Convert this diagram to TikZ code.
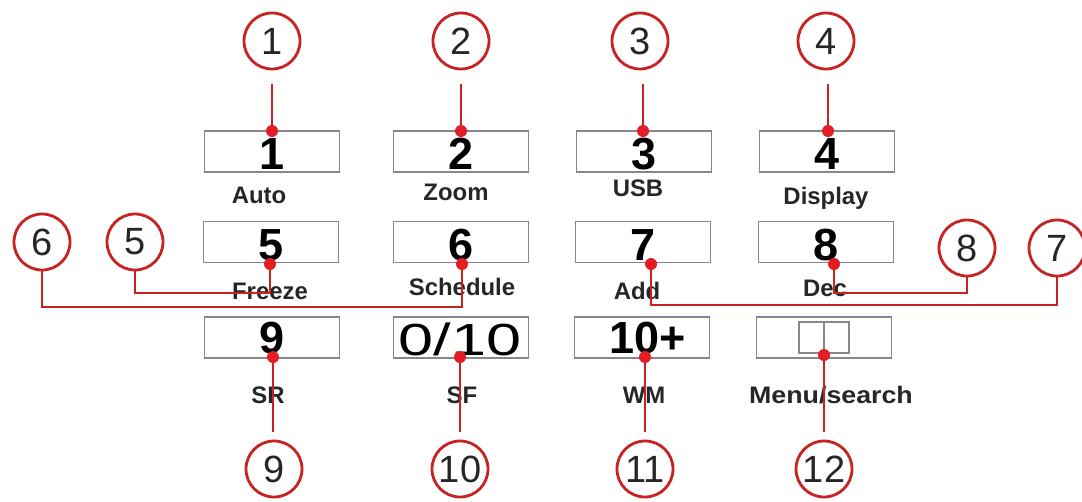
\documentclass[tikz,border=0pt]{standalone}
\usepackage{fontspec}
\setmainfont{Liberation Sans}
\usepackage{tikz}
\usetikzlibrary{calc}
\definecolor{calloutred}{RGB}{200,35,35}
\definecolor{dotred}{RGB}{226,30,36}
\definecolor{boxgray}{RGB}{135,135,135}
\tikzstyle{tsKeyBox} = [
    rectangle,
    draw=boxgray,
    line width=1.3pt,
    minimum width=3.375cm,
    minimum height=1.025cm,
    inner sep=0pt]
\tikzstyle{tsKeyNum} = [
    text=black,
    inner sep=0pt,
    font=\bfseries\fontsize{32}{32}\selectfont]
\tikzstyle{tsKeyLabel} = [
    text=black!85,
    inner sep=0pt,
    font=\bfseries\fontsize{17}{17}\selectfont]
\tikzstyle{tsCallout} = [
    circle,
    draw=calloutred,
    line width=2pt,
    minimum size=1.4cm,
    inner sep=0pt,
    text=black!85,
    font=\fontsize{27}{27}\selectfont]
\tikzstyle{tsDot} = [
    circle,
    fill=dotred,
    minimum size=0.3cm,
    inner sep=0pt]
\tikzstyle{tsLeader} = [
    draw=calloutred,
    line width=2pt]

\begin{document}
\begin{tikzpicture}[x=0.025cm, y=-0.025cm]
        \useasboundingbox (0,0) rectangle (1082,501);

        % key boxes
        \node[tsKeyBox] (k1) at (272,151.5) {};
        \node[tsKeyBox] (k2) at (461,151.5) {};
        \node[tsKeyBox] (k3) at (644,151.5) {};
        \node[tsKeyBox] (k4) at (827,151.5) {};
        \node[tsKeyBox] (k5) at (271,242) {};
        \node[tsKeyBox] (k6) at (461,242) {};
        \node[tsKeyBox] (k7) at (643,242) {};
        \node[tsKeyBox] (k8) at (826,242) {};
        \node[tsKeyBox] (k9) at (272,337.5) {};
        \node[tsKeyBox] (k10) at (461,337.5) {};
        \node[tsKeyBox] (k11) at (642,337.5) {};
        \node[tsKeyBox] (k12) at (824,337.5) {};
        \node[tsKeyBox, line width=1pt, minimum width=1.25cm, minimum height=0.775cm] (k12in) at (824,337.5) {};
        \draw[boxgray, line width=1pt] (k12in.north) -- (k12in.south);

        % key numbers
        \node[tsKeyNum] (n1) at (272,154) {1};
        \node[tsKeyNum] (n2) at (461,154) {2};
        \node[tsKeyNum] (n3) at (644,154) {3};
        \node[tsKeyNum] (n4) at (827,154) {4};
        \node[tsKeyNum] (n5) at (271,245) {5};
        \node[tsKeyNum] (n6) at (461,245) {6};
        \node[tsKeyNum] (n7) at (643,245) {7};
        \node[tsKeyNum] (n8) at (826,245) {8};
        \node[tsKeyNum] (n9) at (272,338) {9};
        \node[tsKeyNum, font=\fontsize{32}{32}\selectfont] (n10) at (460,339) {\scalebox{1.4}[1]{0/10}};
        \node[tsKeyNum] (n11) at (648,338) {10+};

        % key labels
        \node[tsKeyLabel] (l1) at (259,195) {Auto};
        \node[tsKeyLabel] (l2) at (456,192) {Zoom};
        \node[tsKeyLabel] (l3) at (638,188) {USB};
        \node[tsKeyLabel] (l4) at (826,198) {Display};
        \node[tsKeyLabel] (l5) at (270,291) {Freeze};
        \node[tsKeyLabel] (l6) at (462,287) {Schedule};
        \node[tsKeyLabel] (l7) at (637,291) {Add};
        \node[tsKeyLabel] (l8) at (825,288) {Dec};
        \node[tsKeyLabel] (l9) at (268,395) {SR};
        \node[tsKeyLabel] (l10) at (462,395) {SF};
        \node[tsKeyLabel] (l11) at (644,395) {WM};
        \node[tsKeyLabel] (l12) at (831,395) {\scalebox{1.12}[1]{Menu/search}};

        % callouts
        \node[tsCallout] (c1) at (272,41) {1};
        \node[tsCallout] (c2) at (461,41) {2};
        \node[tsCallout] (c3) at (640,41) {3};
        \node[tsCallout] (c4) at (826,41) {4};
        \node[tsCallout] (c6) at (42,242) {6};
        \node[tsCallout] (c5) at (135,242) {5};
        \node[tsCallout] (c8) at (967,248) {8};
        \node[tsCallout] (c7) at (1057,248) {7};
        \node[tsCallout] (c9) at (274,469) {9};
        \node[tsCallout] (c10) at (460,469) {10};
        \node[tsCallout] (c11) at (645,469) {11};
        \node[tsCallout] (c12) at (824,469) {12};

        % dots
        \node[tsDot] (d1) at (272,131) {};
        \node[tsDot] (d2) at (461,131) {};
        \node[tsDot] (d3) at (643,131) {};
        \node[tsDot] (d4) at (828,131) {};
        \node[tsDot] (d5) at (270,264) {};
        \node[tsDot] (d6) at (462,264) {};
        \node[tsDot] (d7) at (651,264) {};
        \node[tsDot] (d8) at (834,264) {};
        \node[tsDot] (d9) at (273,357) {};
        \node[tsDot] (d10) at (460,357) {};
        \node[tsDot] (d11) at (645,357) {};
        \node[tsDot] (d12) at (824,355) {};

        \coordinate (j5) at (270,293);
        \coordinate (j6) at (462,307);
        \coordinate (j8) at (834,293);
        \coordinate (j7) at (651,305);

        % leaders
        \draw[tsLeader, shorten <=0.35cm] (c1.south -| d1) -- (d1);
        \draw[tsLeader, shorten <=0.35cm] (c2.south -| d2) -- (d2);
        \draw[tsLeader, shorten <=0.35cm] (c3.south -| d3) -- (d3);
        \draw[tsLeader, shorten <=0.35cm] (c4.south -| d4) -- (d4);
        \draw[tsLeader] (c5) |- (j5) -- (d5);
        \draw[tsLeader] (c6) |- (j6) -- (d6);
        \draw[tsLeader] (c8) |- (j8) -- (d8);
        \draw[tsLeader] (c7) |- (j7) -- (d7);
        \draw[tsLeader, shorten >=0.2cm] (d9) -- (c9.north -| d9);
        \draw[tsLeader, shorten >=0.2cm] (d10) -- (c10.north -| d10);
        \draw[tsLeader, shorten >=0.2cm] (d11) -- (c11.north -| d11);
        \draw[tsLeader, shorten >=0.2cm] (d12) -- (c12.north -| d12);

        \end{tikzpicture}
\end{document}
